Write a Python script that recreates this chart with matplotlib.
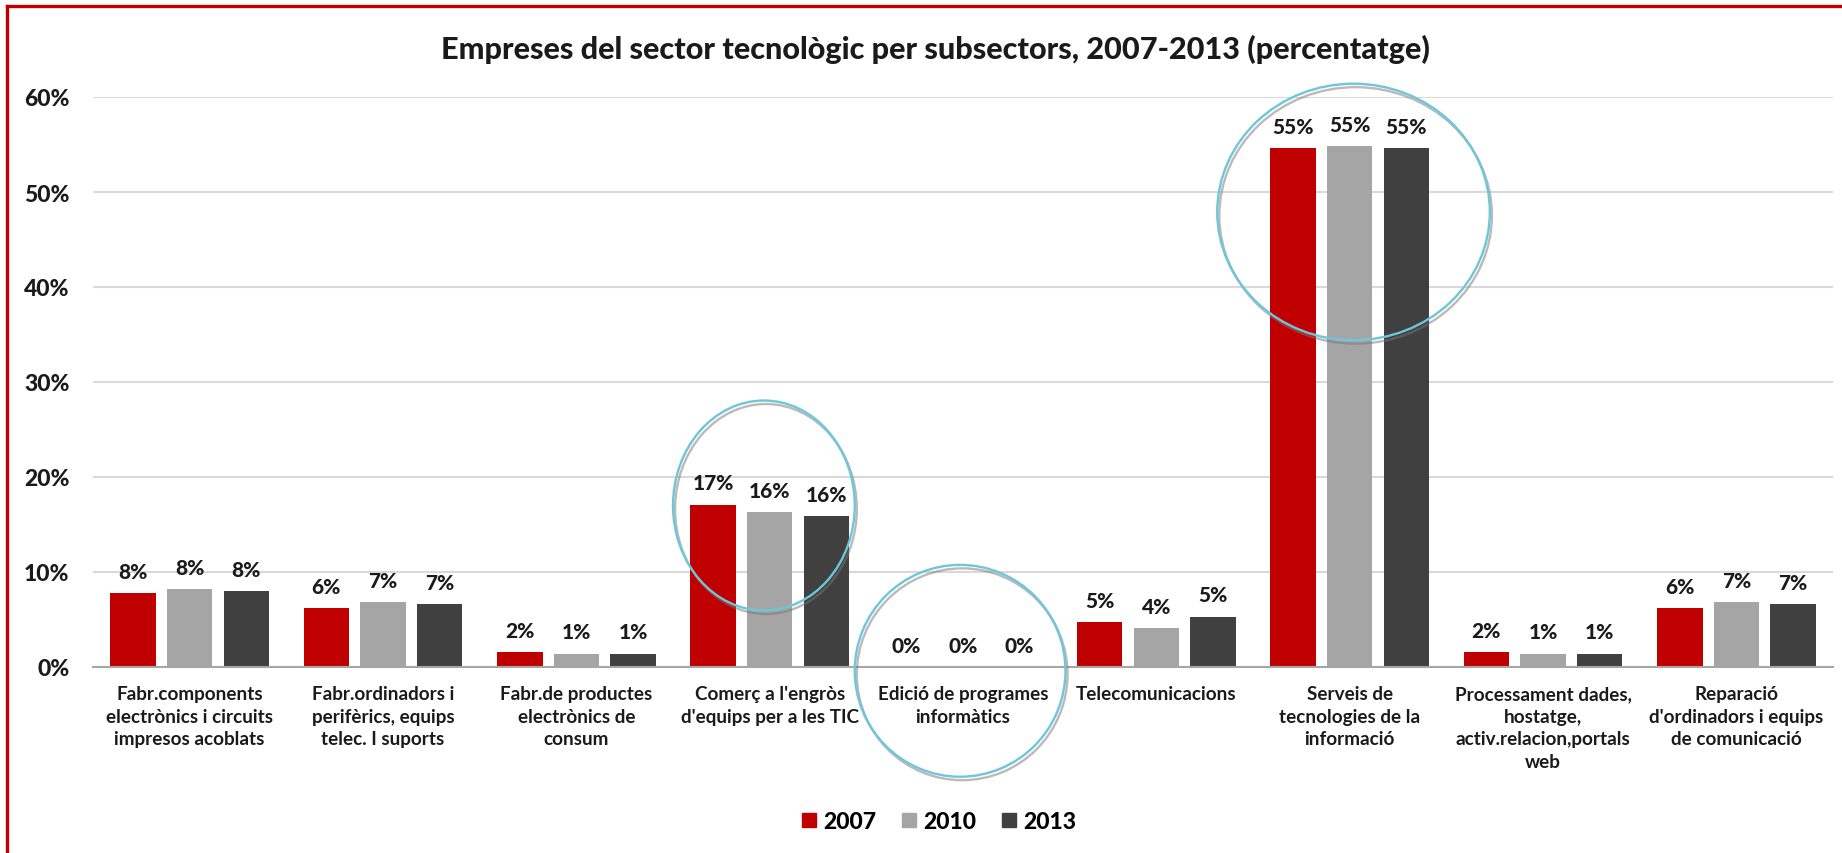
import matplotlib
matplotlib.use("Agg")
import matplotlib.pyplot as plt
import matplotlib.patheffects as pe
from matplotlib.patches import Ellipse
from matplotlib.lines import Line2D
import numpy as np

plt.rcParams['font.family'] = ['Lato', 'DejaVu Sans']
plt.rcParams['font.weight'] = 'bold'

categories = [
    "Fabr.components\nelectrònics i circuits\nimpresos acoblats",
    "Fabr.ordinadors i\nperifèrics, equips\ntelec. I suports",
    "Fabr.de productes\nelectrònics de\nconsum",
    "Comerç a l'engròs\nd'equips per a les TIC",
    "Edició de programes\ninformàtics",
    "Telecomunicacions",
    "Serveis de\ntecnologies de la\ninformació",
    "Processament dades,\nhostatge,\nactiv.relacion,portals\nweb",
    "Reparació\nd'ordinadors i equips\nde comunicació",
]
anys = ["2007", "2010", "2013"]
v2007 = [7.8, 6.2, 1.6, 17.1, 0.0, 4.7, 54.6, 1.6, 6.2]
v2010 = [8.2, 6.8, 1.4, 16.3, 0.0, 4.1, 54.8, 1.4, 6.8]
v2013 = [8.0, 6.6, 1.4, 15.9, 0.0, 5.3, 54.6, 1.4, 6.6]
colors = ["#C00000", "#A5A5A5", "#404040"]

# cercles destacats: (categoria, centre y, amplada, alçada)
cercles = [(2.97, 17.0, 0.94, 22.1), (3.985, -0.4, 1.09, 22.3), (6.02, 47.9, 1.41, 27.0)]

fig = plt.figure(figsize=(18.42, 8.54), dpi=100)
ax = fig.add_axes([93/1842, 1-668/854, 1740/1842, 570/854])

x = np.arange(len(categories))
w = 0.236
step = 0.293
for k, (vals, c, lab) in enumerate(zip([v2007, v2010, v2013], colors, anys)):
    bars = ax.bar(x + (k-1)*step, vals, w, color=c, label=lab, zorder=3)
    for b, v in zip(bars, vals):
        ax.annotate(f"{v:.0f}%", (b.get_x() + b.get_width()/2, v),
                    xytext=(0, 11), textcoords='offset points',
                    ha='center', va='baseline', fontsize=15, fontweight='black', color='#1a1a1a')

ax.set_xlim(-0.5, 8.5)
ax.set_ylim(0, 60)
ax.set_yticks(range(0, 61, 10))
ax.set_yticklabels([f"{t}%" for t in range(0, 61, 10)], fontsize=16.5, fontweight='black')
ax.set_xticks(x)
ax.set_xticklabels(categories, fontsize=13.6, fontweight='bold', linespacing=1.4)
ax.tick_params(axis='both', length=0, colors='#1a1a1a')
ax.tick_params(axis='y', pad=17)
ax.tick_params(axis='x', pad=13)
ax.grid(axis='y', color='#D9D9D9', lw=1.5, zorder=0)
for s in ['top', 'right', 'left']:
    ax.spines[s].set_visible(False)
ax.spines['bottom'].set_color('#A6A6A6')
ax.spines['bottom'].set_linewidth(1.5)
ax.spines['bottom'].set_zorder(4)

for cx, cy, ew, eh in cercles:
    e = Ellipse((cx, cy), ew, eh, fill=False, edgecolor='#6EC6DA', lw=1.7,
                clip_on=False, zorder=5,
                path_effects=[pe.SimpleLineShadow(offset=(1.5, -2.5), shadow_color='#777777', alpha=0.5),
                              pe.Normal()])
    ax.add_patch(e)

fig.text(935/1842, 1-59/854, "Empreses del sector tecnològic per subsectors, 2007-2013 (percentatge)",
         ha='center', va='baseline', fontsize=22.1, fontweight='black', color='#1a1a1a')

handles = [Line2D([], [], marker='s', ls='', color=c, markersize=10.5) for c in colors]
fig.legend(handles, anys, loc='center', bbox_to_anchor=(937/1842, 1-823/854), ncol=3,
           frameon=False, prop={'size': 16.5, 'weight': 'black'}, handletextpad=0.15,
           columnspacing=0.9, handlelength=1.0)

# marc vermell (només dalt i a l'esquerra)
fig.add_artist(Line2D([7/1842, 7/1842], [0, 1-7/854], color='#C00000', lw=2.4))
fig.add_artist(Line2D([7/1842, 1], [1-7/854, 1-7/854], color='#C00000', lw=2.4))

fig.savefig("out.png", dpi=100)
